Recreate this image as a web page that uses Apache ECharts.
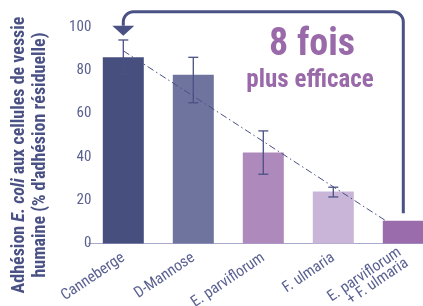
<!DOCTYPE html>
<html>
<head>
<meta charset="utf-8">
<script src="https://cdn.jsdelivr.net/npm/echarts@6/dist/echarts.min.js"></script>
<style>
  html, body { margin: 0; padding: 0; background: #fff; overflow: hidden; }
  #chart { width: 440px; height: 306px; }
</style>
</head>
<body>
<div id="chart"></div>
<script>
// données
const categories = ['Canneberge', 'D-Mannose', 'E. parviflorum', 'F. ulmaria', 'E. parviflorum\n+ F. ulmaria'];
const adhesion = [86, 78, 42, 24, 10.5];
const errLow = [78, 65, 32, 21.5, null];
const errHigh = [94, 86, 52, 26, null];
const barColors = ['#464f7e', '#6e749e', '#ad89bc', '#c9b5d8', '#9b6cab'];
const yTicks = [0, 20, 40, 60, 80, 100];
// ligne de tendance (x en unités de catégorie)
const trendX = [0, 3.75];
const trendY = [89, 10.5];
// flèche : départ, sommet, pointe (en valeurs de l'axe y)
const arrowLevels = { from: 14, top: 107, tip: 96 };

const NAVY = '#4a5184';
const PURPLE = '#9a69a9';
const FONT = "'Roboto Condensed', 'DejaVu Sans Condensed', sans-serif";

const chart = echarts.init(document.getElementById('chart'), null, { renderer: 'canvas' });

const option = {
  animation: false,
  grid: {
    left: 88.3, top: 27, width: 350, height: 216.5,
    containLabel: false, outerBoundsMode: 'none'
  },
  xAxis: [{
    type: 'category',
    data: categories,
    axisLine: { lineStyle: { color: '#a9a9cc', width: 1 } },
    axisTick: { show: false },
    axisLabel: {
      rotate: 34, margin: 13, interval: 0, padding: [20, 0, 0, 0],
      color: '#5b6191', fontSize: 15.5, fontFamily: FONT, lineHeight: 13
    }
  }, {
    type: 'value', min: -0.5, max: 4.5, show: false
  }],
  yAxis: {
    type: 'value', min: 0, max: 100, interval: 20,
    splitLine: { show: false },
    axisLine: { show: false },
    axisTick: { show: false },
    axisLabel: {
      margin: -3, color: '#5b6191', fontSize: 15, fontFamily: FONT,
      formatter: v => yTicks.includes(v) ? String(v) : ''
    }
  },
  series: [{
    type: 'bar',
    barWidth: 41,
    data: adhesion.map((v, i) => ({ value: v, itemStyle: { color: barColors[i] } })),
    z: 2
  }, {
    type: 'custom',
    z: 4,
    data: adhesion.map((v, i) => [i, errLow[i], errHigh[i]]),
    renderItem: (params, api) => {
      if (api.value(1) == null || isNaN(api.value(1))) return null;
      const lo = api.coord([api.value(0), api.value(1)]);
      const hi = api.coord([api.value(0), api.value(2)]);
      const hw = 5;
      const style = { stroke: NAVY, lineWidth: 1.3 };
      return {
        type: 'group',
        children: [
          { type: 'line', shape: { x1: lo[0], y1: lo[1], x2: hi[0], y2: hi[1] }, style },
          { type: 'line', shape: { x1: hi[0] - hw, y1: hi[1], x2: hi[0] + hw, y2: hi[1] }, style },
          { type: 'line', shape: { x1: lo[0] - hw, y1: lo[1], x2: lo[0] + hw, y2: lo[1] }, style }
        ]
      };
    }
  }, {
    type: 'line',
    xAxisIndex: 1,
    z: 5,
    symbol: 'none',
    data: trendX.map((x, i) => [x, trendY[i]]),
    lineStyle: { color: NAVY, width: 1, type: [7, 3, 1.5, 3] }
  }]
};
chart.setOption(option);

// flèche et textes, positionnés depuis les échelles
const px = (i, v) => chart.convertToPixel({ xAxisIndex: 0, yAxisIndex: 0 }, [categories[i], v]);
const start = px(categories.length - 1, arrowLevels.from);
const topR = px(categories.length - 1, arrowLevels.top);
const topL = px(0, arrowLevels.top);
const tip = px(0, arrowLevels.tip);
const r = 10;
const head = 10;

// coin arrondi : quart de cercle en petits segments
function corner(cx, cy, a0, a1) {
  const pts = [];
  for (let k = 0; k <= 8; k++) {
    const a = a0 + (a1 - a0) * k / 8;
    pts.push([cx + r * Math.cos(a), cy + r * Math.sin(a)]);
  }
  return pts;
}
const bracket = [start]
  .concat(corner(topR[0] - r, topR[1] + r, 0, -Math.PI / 2))
  .concat(corner(topL[0] + r, topL[1] + r, -Math.PI / 2, -Math.PI))
  .concat([[tip[0], tip[1] - head]]);

chart.setOption({
  graphic: [{
    type: 'polyline',
    shape: { points: bracket },
    style: { stroke: NAVY, lineWidth: 3, fill: null },
    z: 10
  }, {
    type: 'polygon',
    shape: { points: [[tip[0] - 11, tip[1] - head], [tip[0] + 11, tip[1] - head], [tip[0], tip[1]]] },
    style: { fill: NAVY },
    z: 10
  }, {
    type: 'text',
    x: 312, y: 45,
    style: {
      text: '8 fois', fill: PURPLE, font: `bold 38px ${FONT}`,
      align: 'center', verticalAlign: 'middle'
    },
    z: 10
  }, {
    type: 'text',
    x: 310, y: 81,
    style: {
      text: 'plus efficace', fill: PURPLE, font: `bold 25px ${FONT}`,
      align: 'center', verticalAlign: 'middle'
    },
    z: 10
  }, {
    type: 'text',
    x: 30, y: 155,
    rotation: Math.PI / 2,
    style: {
      text: '{b|Adhésion }{i|E. coli}{b| aux cellules de vessie}\n{b|humaine (% d\'adhésion résiduelle)}',
      align: 'center', verticalAlign: 'middle',
      rich: {
        b: { fill: NAVY, font: `bold 18px ${FONT}`, lineHeight: 21 },
        i: { fill: NAVY, font: `italic bold 18px ${FONT}`, lineHeight: 21 }
      }
    },
    z: 10
  }]
});
</script>
</body>
</html>
